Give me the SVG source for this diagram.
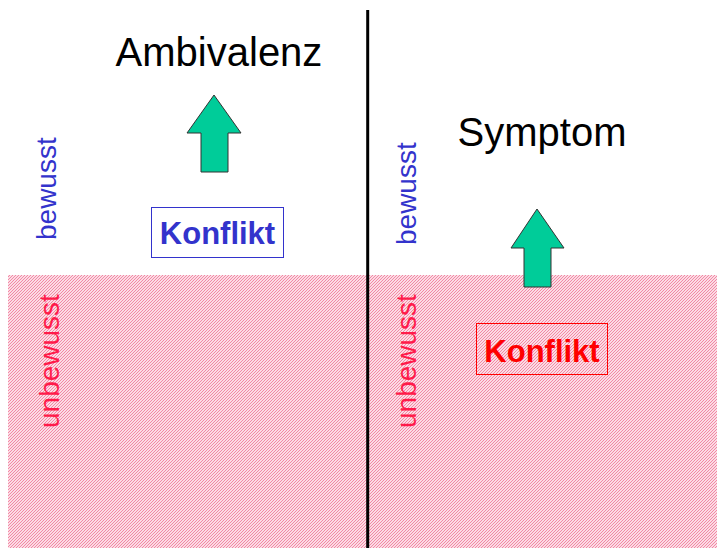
<svg xmlns="http://www.w3.org/2000/svg" width="717" height="548" viewBox="0 0 717 548">
  <defs>
    <pattern id="hatch" patternUnits="userSpaceOnUse" width="3" height="3">
      <rect width="3" height="3" fill="#ffffff"/>
      <path d="M-1,1 L1,-1 M0,3 L3,0 M2,4 L4,2" stroke="#f3809f" stroke-width="1.05"/>
    </pattern>
  </defs>
  <style>
    .title { font-family: "Liberation Sans", Arial, sans-serif; font-size: 40px; fill: #000; text-anchor: middle; }
    .side { font-family: "Liberation Sans", Arial, sans-serif; font-size: 28px; }
    .blue { fill: #3333cc; }
    .red { fill: #ff1a4a; }
    .box { fill: none; stroke-width: 1; }
    .label { font-family: "Liberation Sans", Arial, sans-serif; font-size: 31px; font-weight: bold; text-anchor: middle; }
    .arrow { fill: #00cc99; stroke: #333333; stroke-width: 1; }
  </style>

  <!-- unconscious zone -->
  <rect id="zone-unbewusst" x="8" y="275" width="709" height="273" fill="url(#hatch)"/>

  <!-- divider -->
  <g id="connectors">
    <line x1="367.7" y1="10" x2="367.7" y2="548" stroke="#000" stroke-width="3"/>
  </g>

  <!-- side labels -->
  <g id="labels-left">
    <text class="side blue" transform="translate(56,240) rotate(-90)">bewusst</text>
    <text class="side red" transform="translate(59,428) rotate(-90)">unbewusst</text>
  </g>
  <g id="labels-right">
    <text class="side blue" transform="translate(416,245) rotate(-90)">bewusst</text>
    <text class="side red" transform="translate(416,428) rotate(-90)">unbewusst</text>
  </g>

  <!-- left panel -->
  <g id="ambivalenz">
    <text class="title" x="219" y="66">Ambivalenz</text>
  </g>
  <g id="arrow-left">
    <polygon class="arrow" points="214,95 241,133 228,133 228,172 201,172 201,133 187,133"/>
  </g>
  <g id="konflikt-left">
    <rect class="box" x="151.5" y="207.5" width="132" height="50" stroke="#3333cc" fill="#ffffff"/>
    <text class="label blue" x="217.5" y="244">Konflikt</text>
  </g>

  <!-- right panel -->
  <g id="symptom">
    <text class="title" x="542" y="146" font-size="39">Symptom</text>
  </g>
  <g id="arrow-right">
    <polygon class="arrow" points="537,209 564,248 551,248 551,287 524,287 524,248 511,248"/>
  </g>
  <g id="konflikt-right">
    <rect class="box" x="476.5" y="323.5" width="131" height="51" stroke="#ff0000"/>
    <text class="label" x="542" y="362" fill="#ff0000">Konflikt</text>
  </g>
</svg>
